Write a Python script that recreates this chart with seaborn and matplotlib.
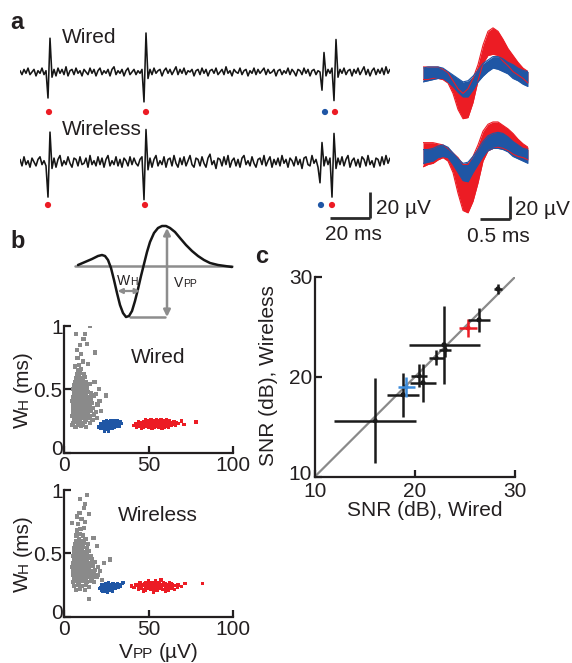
import numpy as np
import pandas as pd
import matplotlib
matplotlib.use("Agg")
import matplotlib.pyplot as plt
import matplotlib.transforms as mtransforms
import seaborn as sns

# ---------------- data ----------------
# panel a: continuous traces, 1 sample per ms (uV)
wired_trace = [1, -2, 2, -1, 3, -2, 0, 2, -3, 1,
               -1, 3, -2, 1, -20, 26, -4, 2, -3, 3,
               -1, 2, -2, 4, -3, 1, 2, -2, 3, -1,
               1, -3, 2, 0, -2, 3, -1, 2, -3, 1,
               3, -2, 1, -1, 2, -3, 2, 4, -2, 1,
               -1, 2, -3, 1, 3, -2, 0, 2, -2, 1,
               -1, 2, -23, 30, -5, 2, -2, 3, -1, 1,
               2, -3, 1, 3, -1, 2, -2, 1, 4, -2,
               2, -1, 3, -2, 1, 0, 2, -3, 1, 2,
               -2, 3, -1, 2, -3, 1, 2, -1, 3, -2,
               0, 2, -2, 4, -1, 1, -3, 2, 0, -1,
               3, -2, 1, 2, -3, 1, -1, 3, -2, 2,
               -1, 1, 3, -2, 2, -1, 0, 2, -3, 1,
               2, -2, 1, -1, 3, -2, 2, 0, -3, 2,
               1, -2, 3, -1, 2, -3, 1, 2, -2, 1,
               0, -14, 15, -3, 2, -1, 3, -22, 25, -4,
               2, -1, 3, -2, 1, 2, -3, 2, -1, 3,
               -2, 1, 4, -2, 2, -3, 1, 3, -2, 2,
               -1, 3, -2, 4, -1, 2]
wireless_trace = [2, -3, 4, -2, 1, -4, 3, 0, -3, 2,
                  4, -2, 1, -3, -27, 23, -5, 3, -4, 2,
                  5, -3, 1, -2, 4, -1, -4, 3, 2, -3,
                  4, -2, -1, 3, -4, 5, -2, 1, -3, 4,
                  -2, 3, -4, 2, 5, -3, 1, -2, 4, -3,
                  2, -4, 3, 1, -3, 4, -2, 3, -1, -3,
                  2, 4, -29, 25, -6, 3, -4, 2, 5, -3,
                  1, -2, 4, -4, 2, 3, -3, 5, -1, -4,
                  3, -2, 4, -3, 1, 5, -2, -4, 3, 2,
                  -3, 4, -1, -4, 3, 6, -2, 1, -5, 3,
                  2, -3, 4, -2, 5, -4, 1, 3, -3, 2,
                  -4, 3, 5, -2, 1, -3, 4, -1, -4, 2,
                  3, -2, 5, -3, 1, 4, -4, 2, -2, 3,
                  -3, 5, -1, 2, -4, 3, 1, -3, 4, -2,
                  2, -5, 3, 4, -2, -3, 5, -1, 2, -4,
                  -16, 15, -3, 4, -2, 3, -27, 22, -5, 3,
                  -2, 4, -3, 2, 5, -4, 1, 3, -3, 2,
                  -4, 4, 2, -3, 5, -2, 1, -4, 3, 2,
                  -3, 4, -2, 5, -1, 3]
wired_spike_t = [14.5, 63.0, 152.5, 157.5]
wireless_spike_t = [14.0, 62.5, 150.5, 156.0]
spike_unit = ["red", "red", "blue", "red"]

# panel a: overlaid spike waveforms (envelopes, uV) over 1.75 ms
wave_t = np.linspace(0, 1.75, 22)
red_top_hi = [7, 7, 7, 7, 5, 2, -5, -12, -16, -12, -3, 9, 26, 38, 41, 38, 31, 23, 17, 11, 6, 3]
red_top_lo = [-4, -4, -3, -3, -4, -7, -16, -30, -38, -37, -24, -5, 10, 17, 18, 17, 12, 8, 3, 0, -3, -7]
blue_top_hi = [6, 7, 7, 7, 6, 3, 0, -3, -6, -5, -1, 4, 10, 13, 16, 16, 14, 11, 9, 6, 4, 3]
blue_top_lo = [-6, -5, -4, -3, -3, -6, -10, -15, -19, -19, -13, -6, -1, 3, 6, 5, 3, 1, -3, -5, -8, -10]
red_bot_hi = [9, 9, 9, 8, 7, 4, 0, -4, -10, -10, -3, 7, 19, 25, 27, 27, 24, 21, 17, 12, 8, 5]
red_bot_lo = [-12, -10, -9, -6, -4, -7, -17, -35, -50, -52, -42, -26, -7, 2, 4, 5, 4, 2, -1, -3, -4, -6]
blue_bot_hi = [3, 3, 4, 6, 7, 5, 0, -5, -9, -8, -3, 3, 10, 15, 17, 18, 17, 14, 10, 7, 4, 3]
blue_bot_lo = [-9, -8, -7, -4, -3, -4, -10, -17, -24, -25, -17, -10, -3, 2, 4, 4, 3, 1, -3, -5, -7, -9]

# panel b: schematic spike (arbitrary units)
schem_t = [0, 7, 14, 20, 24, 27, 30, 33, 36, 39, 42, 45, 48, 51, 54, 57, 60, 63, 66, 69,
           72, 76, 80, 84, 88, 92, 97, 102, 108, 114, 120, 126, 132, 140, 147, 154]
schem_v = [1, 4, 7, 10, 11, 10, 6, -2, -14, -27, -39, -47, -51, -50, -45, -35, -23, -10, 2, 14,
           24, 33, 38, 40, 40, 38, 34, 28, 21, 15, 10, 6, 3, 1, 0, -1]

# panel b: feature clouds (Vpp in uV, Wh in ms)
gray_wired = [
    (6.8, 0.20), (10.2, 0.21), (13.1, 0.20), (8.6, 0.22),
    (5.4, 0.23), (7.9, 0.24), (9.8, 0.23), (12.4, 0.24), (15.2, 0.23), (11.1, 0.22),
    (6.1, 0.26), (7.4, 0.27), (9.3, 0.26), (10.9, 0.27), (12.8, 0.26), (14.6, 0.27), (16.9, 0.26), (8.5, 0.25),
    (4.9, 0.29), (6.9, 0.30), (8.4, 0.29), (10.1, 0.30), (11.9, 0.29), (13.6, 0.30), (15.4, 0.29), (17.8, 0.30), (9.2, 0.28), (12.7, 0.28),
    (5.6, 0.32), (6.6, 0.33), (8.1, 0.32), (9.6, 0.33), (11.2, 0.32), (12.5, 0.33), (14.1, 0.32), (16.2, 0.33), (18.9, 0.32), (10.4, 0.31),
    (5.1, 0.35), (6.4, 0.36), (7.9, 0.35), (9.1, 0.36), (10.6, 0.35), (12.1, 0.36), (13.4, 0.35), (15.1, 0.36), (17.4, 0.35), (11.4, 0.34), (8.7, 0.34),
    (5.4, 0.38), (7.1, 0.39), (8.6, 0.38), (10.1, 0.39), (11.6, 0.38), (13.1, 0.39), (14.6, 0.38), (16.6, 0.39), (19.8, 0.38), (9.4, 0.37), (12.3, 0.37),
    (4.9, 0.41), (6.4, 0.42), (7.9, 0.41), (9.5, 0.42), (11.1, 0.41), (12.6, 0.42), (14.1, 0.41), (16.1, 0.42), (10.3, 0.40), (13.3, 0.40),
    (5.6, 0.44), (7.1, 0.45), (8.4, 0.44), (10.0, 0.45), (11.6, 0.44), (13.1, 0.45), (15.1, 0.44), (17.6, 0.45), (9.1, 0.43),
    (6.1, 0.47), (7.6, 0.48), (9.1, 0.47), (10.6, 0.48), (12.1, 0.47), (14.1, 0.48), (16.2, 0.47), (8.3, 0.46),
    (5.6, 0.50), (7.1, 0.51), (8.6, 0.50), (10.1, 0.51), (11.6, 0.50), (13.6, 0.51), (9.4, 0.49),
    (6.1, 0.53), (7.6, 0.54), (9.1, 0.53), (10.6, 0.54), (12.6, 0.53), (15.1, 0.54),
    (6.6, 0.56), (8.1, 0.57), (9.6, 0.56), (11.1, 0.57), (13.1, 0.56),
    (7.1, 0.59), (8.6, 0.60), (10.6, 0.59), (12.1, 0.60),
    (7.6, 0.62), (9.6, 0.63), (11.6, 0.62), (8.6, 0.65), (10.1, 0.66),
    (9.0, 0.69), (11.0, 0.72), (8.0, 0.75), (10.3, 0.78), (13.6, 0.86), (9.3, 0.85), (6.9, 0.94),
    (12.2, 0.94), (15.2, 1.00), (18.2, 0.79), (7.5, 0.81), (11.5, 0.90), (14.0, 0.70), (6.5, 0.68),
    (21.0, 0.41), (25.0, 0.45), (19.5, 0.27), (22.0, 0.33), (20.5, 0.50), (4.5, 0.22), (18.0, 0.56), (19.0, 0.46)]
blue_wired = [
    (20.5, 0.20), (21.5, 0.21), (22.0, 0.19), (22.8, 0.22), (23.5, 0.20), (24.2, 0.18), (24.6, 0.22),
    (25.0, 0.20), (25.6, 0.23), (26.0, 0.19), (26.4, 0.21), (27.0, 0.23), (27.4, 0.20), (27.9, 0.22),
    (28.3, 0.24), (28.8, 0.21), (29.2, 0.23), (29.7, 0.20), (30.2, 0.22), (30.6, 0.24), (31.1, 0.21),
    (31.8, 0.23), (32.5, 0.22), (33.4, 0.24), (23.2, 0.24), (25.2, 0.25), (27.5, 0.25), (29.5, 0.25),
    (26.2, 0.17), (24.0, 0.17), (28.5, 0.19), (34.2, 0.23), (21.8, 0.23), (23.9, 0.21), (26.8, 0.24),
    (30.0, 0.23), (31.4, 0.25), (32.9, 0.21)]
red_wired = [
    (43.0, 0.20), (47.1, 0.20), (50.3, 0.20), (53.2, 0.20), (56.1, 0.20), (59.3, 0.20), (62.0, 0.20),
    (45.0, 0.207), (48.6, 0.208), (51.7, 0.207), (54.7, 0.208), (57.6, 0.207), (60.6, 0.208),
    (41.5, 0.215), (45.2, 0.215), (48.0, 0.215), (51.1, 0.215), (54.2, 0.215), (57.0, 0.215),
    (60.1, 0.215), (63.2, 0.215), (66.0, 0.215),
    (43.3, 0.222), (46.6, 0.223), (49.6, 0.222), (52.6, 0.223), (55.7, 0.222), (58.6, 0.223),
    (61.6, 0.222), (64.6, 0.223),
    (42.2, 0.23), (44.3, 0.23), (46.6, 0.23), (49.1, 0.23), (52.0, 0.23), (55.2, 0.23), (58.1, 0.23),
    (61.0, 0.23), (64.1, 0.23), (67.8, 0.23),
    (45.6, 0.237), (48.6, 0.238), (51.5, 0.237), (54.6, 0.238), (57.6, 0.237), (60.6, 0.238),
    (63.5, 0.237), (66.5, 0.238),
    (44.1, 0.245), (47.2, 0.245), (50.1, 0.245), (53.0, 0.245), (56.2, 0.245), (59.1, 0.245),
    (62.0, 0.245), (65.2, 0.245),
    (49.6, 0.252), (53.1, 0.253), (56.0, 0.252), (59.0, 0.253), (62.1, 0.252),
    (48.1, 0.26), (51.5, 0.26), (54.6, 0.26), (57.5, 0.26), (60.5, 0.26),
    (46.0, 0.19), (52.1, 0.19), (58.0, 0.19), (69.5, 0.25), (78.0, 0.24), (71.0, 0.22)]
gray_wireless = [
    (7.2, 0.21), (9.6, 0.22), (12.3, 0.21), (14.8, 0.23), (6.1, 0.24), (8.3, 0.25), (10.7, 0.24), (13.0, 0.25),
    (5.3, 0.27), (7.0, 0.28), (9.0, 0.27), (11.3, 0.28), (13.5, 0.27), (15.9, 0.28), (17.8, 0.27),
    (5.8, 0.30), (7.6, 0.31), (9.5, 0.30), (11.0, 0.31), (12.7, 0.30), (14.4, 0.31), (16.6, 0.30), (19.2, 0.31),
    (5.1, 0.33), (6.7, 0.34), (8.2, 0.33), (9.9, 0.34), (11.7, 0.33), (13.3, 0.34), (15.2, 0.33), (17.5, 0.34), (20.3, 0.33),
    (5.6, 0.36), (7.3, 0.37), (8.8, 0.36), (10.4, 0.37), (12.2, 0.36), (13.9, 0.37), (16.0, 0.36), (18.4, 0.37),
    (4.9, 0.39), (6.5, 0.40), (8.0, 0.39), (9.7, 0.40), (11.4, 0.39), (13.0, 0.40), (14.8, 0.39), (17.1, 0.40), (20.0, 0.39),
    (5.4, 0.42), (7.0, 0.43), (8.6, 0.42), (10.2, 0.43), (11.9, 0.42), (13.6, 0.43), (15.7, 0.42), (18.2, 0.43),
    (5.9, 0.45), (7.5, 0.46), (9.1, 0.45), (10.8, 0.46), (12.5, 0.45), (14.4, 0.46), (16.8, 0.45),
    (5.3, 0.48), (6.9, 0.49), (8.5, 0.48), (10.1, 0.49), (11.8, 0.48), (13.7, 0.49), (15.9, 0.48),
    (5.8, 0.51), (7.4, 0.52), (9.0, 0.51), (10.7, 0.52), (12.6, 0.51), (14.9, 0.52),
    (6.2, 0.54), (7.9, 0.55), (9.6, 0.54), (11.4, 0.55), (13.4, 0.54),
    (6.6, 0.57), (8.3, 0.58), (10.1, 0.57), (12.0, 0.58), (14.2, 0.57),
    (7.0, 0.60), (8.8, 0.61), (10.6, 0.60), (12.7, 0.61), (7.4, 0.64), (9.3, 0.65), (11.2, 0.64),
    (7.9, 0.68), (9.8, 0.69), (11.6, 0.70),
    (4.5, 0.74), (8.5, 0.73), (10.4, 0.77), (12.5, 0.75), (9.2, 0.82), (11.8, 0.86), (9.5, 0.93),
    (13.8, 0.96), (12.5, 0.89), (7.6, 0.79), (15.0, 0.81),
    (27.0, 0.45), (15.0, 0.14), (21.5, 0.36), (22.5, 0.29), (19.5, 0.56), (23.5, 0.42), (17.5, 0.62)]
blue_wireless = [
    (21.2, 0.22), (22.0, 0.23), (22.6, 0.21), (23.3, 0.24), (24.0, 0.22), (24.5, 0.20), (25.1, 0.24),
    (25.6, 0.22), (26.2, 0.25), (26.7, 0.21), (27.1, 0.23), (27.6, 0.25), (28.0, 0.22), (28.5, 0.24),
    (29.0, 0.26), (29.4, 0.23), (29.9, 0.25), (30.4, 0.22), (30.9, 0.24), (31.5, 0.26), (32.1, 0.23),
    (32.8, 0.25), (33.6, 0.24), (34.5, 0.26), (24.4, 0.26), (26.5, 0.27), (28.7, 0.20), (25.8, 0.19),
    (35.0, 0.27), (23.0, 0.20), (22.4, 0.25), (25.3, 0.21), (27.9, 0.24), (30.6, 0.25), (32.3, 0.24)]
red_wireless = [
    (44.0, 0.215), (48.0, 0.21), (51.5, 0.215), (55.0, 0.21), (58.5, 0.215), (62.0, 0.21), (65.5, 0.215),
    (46.0, 0.223), (49.6, 0.222), (53.2, 0.223), (56.8, 0.222), (60.2, 0.223), (63.8, 0.222),
    (41.5, 0.23), (45.0, 0.235), (48.5, 0.23), (51.5, 0.235), (54.5, 0.23), (57.5, 0.235), (60.5, 0.23),
    (63.5, 0.235), (67.0, 0.23), (69.5, 0.235),
    (44.0, 0.242), (47.2, 0.243), (50.2, 0.242), (53.1, 0.243), (56.0, 0.242), (59.1, 0.243),
    (62.2, 0.242), (65.5, 0.243),
    (42.5, 0.25), (46.0, 0.255), (49.0, 0.25), (52.0, 0.255), (55.0, 0.25), (58.0, 0.255), (61.0, 0.25),
    (64.0, 0.255), (67.5, 0.25),
    (47.5, 0.262), (50.6, 0.261), (53.6, 0.262), (56.6, 0.261), (59.8, 0.262), (63.4, 0.261),
    (45.0, 0.27), (48.5, 0.265), (52.0, 0.27), (55.5, 0.265), (59.0, 0.27), (62.5, 0.265),
    (50.0, 0.285), (54.0, 0.28), (57.5, 0.29), (47.0, 0.20), (53.0, 0.195), (60.0, 0.20),
    (71.6, 0.26), (82.0, 0.26), (40.0, 0.24)]

# panel c: SNR (dB) wired vs wireless with error bars
snr_wired = [16.0, 18.8, 19.1, 20.4, 20.8, 22.1, 22.9, 23.0, 25.3, 26.4, 28.3]
snr_wireless = [15.6, 18.2, 19.0, 20.1, 19.4, 21.9, 23.2, 22.7, 24.9, 25.7, 28.8]
snr_wired_err = [4.1, 1.6, 0.85, 0.8, 1.3, 0.75, 3.55, 0.6, 0.87, 1.1, 0.43]
snr_wireless_err = [4.25, 2.2, 1.0, 1.15, 1.9, 0.75, 3.9, 0.7, 0.87, 1.2, 0.5]
snr_unit = ["other", "other", "blue", "other", "other", "other", "other", "other", "red", "other", "other"]

# ---------------- style ----------------
sns.set_theme(style="white")
plt.rcParams["font.family"] = ["Liberation Sans", "DejaVu Sans"]
TXT = "#231f20"
RED = "#ec1c24"
BLUE = "#1f56a5"
LBLUE = "#3d8cdb"
GRAY = "#8a8a8a"
SGRAY = "#8d8d8d"

W, H = 572, 663
fig = plt.figure(figsize=(W / 100, H / 100), dpi=100)
renderer = fig.canvas.get_renderer()


def ax_px(x0, y0, x1, y1):
    return fig.add_axes([x0 / W, 1 - y1 / H, (x1 - x0) / W, (y1 - y0) / H])


def ftext(x, y, s, **kw):
    kw.setdefault("color", TXT)
    return fig.text(x / W, 1 - y / H, s, **kw)


def nudge(label, dx, dy):
    label.set_transform(label.get_transform() + mtransforms.Affine2D().translate(dx, dy))


def rich(cx, cy, parts, rotation=0, color=TXT):
    """parts placed on a common baseline; (cx, cy) = centre along text, baseline."""
    widths = []
    for s, fs in parts:
        tt = fig.text(0, 0, s, fontsize=fs)
        widths.append(tt.get_window_extent(renderer).width)
        tt.remove()
    gaps = [0] + [p[1] * 100 / 72 * 0.278 if p[0].startswith("(") else 0 for p in parts[1:]]
    total = sum(widths) + sum(gaps)
    pos = -total / 2
    for (s, fs), w, g in zip(parts, widths, gaps):
        pos += g
        if rotation == 0:
            ftext(cx + pos, cy, s, fontsize=fs, ha="left", va="baseline", color=color)
        else:
            ftext(cx, cy - pos, s, fontsize=fs, ha="left", va="baseline",
                  rotation=90, rotation_mode="anchor", color=color)
        pos += w


unit_pal = {"red": RED, "blue": BLUE}

# ---------------- panel a: traces ----------------
px_per_uv = 1.3
for trace, spk, x0, base, y0, y1, doty in [
        (wired_trace, wired_spike_t, 20, 72, 20, 125, 112),
        (wireless_trace, wireless_spike_t, 20, 162, 110, 245, 205)]:
    ax = ax_px(x0, y0, 390, y1)
    ax.set_axis_off()
    ax.set_xlim(0, 185)
    ax.set_ylim(-(y1 - base) / px_per_uv, (base - y0) / px_per_uv)
    t = np.arange(len(trace))
    sns.lineplot(x=t, y=trace, ax=ax, color="#161616", lw=1.15, estimator=None, sort=False)
    dfd = pd.DataFrame({"t": spk, "y": -(doty - base) / px_per_uv, "unit": spike_unit})
    sns.scatterplot(data=dfd, x="t", y="y", hue="unit", palette=unit_pal, s=20,
                    linewidth=0, legend=False, ax=ax, clip_on=False)
    ax_w = ax
# scale bar (20 ms, 20 uV) in wireless axes
yb = -(218 - 162) / px_per_uv
ax_w.plot([155, 175], [yb, yb], color="#2a2a2a", lw=2, clip_on=False, solid_capstyle="butt")
ax_w.plot([175, 175], [yb, yb + 20], color="#2a2a2a", lw=2, clip_on=False, solid_capstyle="butt")
ftext(376, 214, "20 µV", fontsize=15, ha="left", va="baseline")
ftext(353, 240, "20 ms", fontsize=15, ha="center", va="baseline")
ftext(62, 43, "Wired", fontsize=15, ha="left", va="baseline")
ftext(62, 135, "Wireless", fontsize=15, ha="left", va="baseline")

# overlaid waveforms
px_per_uv2 = 1.15
for (rh, rl, bh, bl), base, y0, y1 in [
        ((red_top_hi, red_top_lo, blue_top_hi, blue_top_lo), 75, 20, 130),
        ((red_bot_hi, red_bot_lo, blue_bot_hi, blue_bot_lo), 153, 110, 225)]:
    ax = ax_px(423, y0, 528, y1)
    ax.set_axis_off()
    ax.set_xlim(0, 1.75)
    ax.set_ylim(-(y1 - base) / px_per_uv2, (base - y0) / px_per_uv2)
    for hi, lo, c in [(rh, rl, RED), (bh, bl, BLUE)]:
        ax.fill_between(wave_t, lo, hi, color=c, lw=0)
        sns.lineplot(x=wave_t, y=hi, ax=ax, color=c, lw=0.8, estimator=None, sort=False)
        sns.lineplot(x=wave_t, y=lo, ax=ax, color=c, lw=0.8, estimator=None, sort=False)
    ax_wb = ax
yb2 = -(219 - 153) / px_per_uv2
ax_wb.plot([0.95, 1.45], [yb2, yb2], color="#2a2a2a", lw=2, clip_on=False, solid_capstyle="butt")
ax_wb.plot([1.45, 1.45], [yb2, yb2 + 20], color="#2a2a2a", lw=2, clip_on=False, solid_capstyle="butt")
ftext(515, 215, "20 µV", fontsize=15, ha="left", va="baseline")
ftext(498, 242, "0.5 ms", fontsize=15, ha="center", va="baseline")

# ---------------- panel b: schematic ----------------
axs = ax_px(70, 220, 240, 325)
axs.set_axis_off()
axs.set_xlim(-8, 162)
axs.set_ylim(-59, 46)
axs.plot([-3, 154], [0, 0], color=SGRAY, lw=1.8)
axs.plot([52, 87], [-51, -51], color=SGRAY, lw=1.8)
sns.lineplot(x=schem_t, y=schem_v, ax=axs, color="#161616", lw=1.8, estimator=None, sort=False)
axs.annotate("", xy=(89, 38), xytext=(89, -51),
             arrowprops=dict(arrowstyle="<|-|>", color=SGRAY, lw=1.8, mutation_scale=10,
                             shrinkA=0, shrinkB=0))
axs.annotate("", xy=(39.5, -25), xytext=(62, -25),
             arrowprops=dict(arrowstyle="<|-|>", color=SGRAY, lw=1.6, mutation_scale=7,
                             shrinkA=0, shrinkB=0))
rich(127.5, 285, [("W", 10), ("H", 7.5)])
rich(185, 287, [("V", 10), ("PP", 7.5)])

# ---------------- panel b: scatter ----------------
pal_b = {"noise": GRAY, "blue": BLUE, "red": RED}
size_b = {"noise": 9, "blue": 6, "red": 6}
for pts_g, pts_b, pts_r, box, title, ty in [
        (gray_wired, blue_wired, red_wired, (64, 326, 233, 452.5), "Wired", 363),
        (gray_wireless, blue_wireless, red_wireless, (64, 490, 233, 616.5), "Wireless", 521)]:
    ax = ax_px(*box)
    rows = ([(x, y, "noise") for x, y in pts_g] + [(x, y, "blue") for x, y in pts_b]
            + [(x, y, "red") for x, y in pts_r])
    df = pd.DataFrame(rows, columns=["vpp", "wh", "unit"])
    sns.scatterplot(data=df, x="vpp", y="wh", hue="unit", palette=pal_b, size="unit",
                    sizes=size_b, marker="s", linewidth=0, legend=False, ax=ax)
    ax.set_xlim(0, 100)
    ax.set_ylim(0, 1)
    ax.set_xticks([0, 50, 100])
    ax.set_yticks([0, 0.5, 1])
    ax.set_yticklabels(["0", "0.5", "1"])
    ax.set_xlabel("")
    ax.set_ylabel("")
    for sp in ["top", "right"]:
        ax.spines[sp].set_visible(False)
    for sp in ["left", "bottom"]:
        ax.spines[sp].set_color("#231f20")
        ax.spines[sp].set_linewidth(1.6)
    ax.tick_params(direction="in", length=5, width=1.6, pad=1, labelsize=15,
                   colors="#231f20", bottom=True, left=True)
    ax.tick_params(axis="x", pad=2.5)
    ax.patch.set_alpha(0)
    nudge(ax.get_yticklabels()[0], 0, 5)
    ftext(158, ty, title, fontsize=15, ha="center", va="baseline")
    rich(28, (box[1] + box[3]) / 2 + 0, [("W", 15), ("H", 11), ("(ms)", 15)], rotation=90)
rich(159, 658, [("V", 15), ("PP", 11), ("(µV)", 15)])

# ---------------- panel c ----------------
axc = ax_px(315, 277, 515, 476.5)
sns.lineplot(x=[10, 30], y=[10, 30], ax=axc, color="#8a8a8a", lw=1.6)
col_c = {"other": "#1a1a1a", "blue": LBLUE, "red": RED}
for xw, yw, ex, ey, u in zip(snr_wired, snr_wireless, snr_wired_err, snr_wireless_err, snr_unit):
    axc.errorbar(xw, yw, xerr=ex, yerr=ey, fmt="none", ecolor=col_c[u], elinewidth=1.8,
                 capsize=0, clip_on=False)
dfc = pd.DataFrame({"w": snr_wired, "wl": snr_wireless, "unit": snr_unit})
sns.scatterplot(data=dfc, x="w", y="wl", hue="unit", palette=col_c, s=14, linewidth=0,
                legend=False, ax=axc, clip_on=False)
axc.set_xlim(10, 30)
axc.set_ylim(10, 30)
axc.set_xticks([10, 20, 30])
axc.set_yticks([10, 20, 30])
axc.set_xlabel("")
axc.set_ylabel("")
for sp in ["top", "right"]:
    axc.spines[sp].set_visible(False)
for sp in ["left", "bottom"]:
    axc.spines[sp].set_color("#231f20")
    axc.spines[sp].set_linewidth(1.6)
axc.tick_params(direction="in", length=5, width=1.6, pad=2, labelsize=15, colors="#231f20",
                bottom=True, left=True)
axc.tick_params(axis="x", pad=4)
axc.patch.set_alpha(0)
nudge(axc.get_yticklabels()[0], 0, 4)
ftext(425, 516, "SNR (dB), Wired", fontsize=15, ha="center", va="baseline")
ftext(268, 376, "SNR (dB), Wireless", fontsize=15, ha="center", va="center", rotation=90)

# panel letters
ftext(10, 29, "a", fontsize=17, fontweight="bold", ha="left", va="baseline")
ftext(10, 248, "b", fontsize=17, fontweight="bold", ha="left", va="baseline")
ftext(255, 263, "c", fontsize=17, fontweight="bold", ha="left", va="baseline")

fig.savefig("out.png", dpi=100)
